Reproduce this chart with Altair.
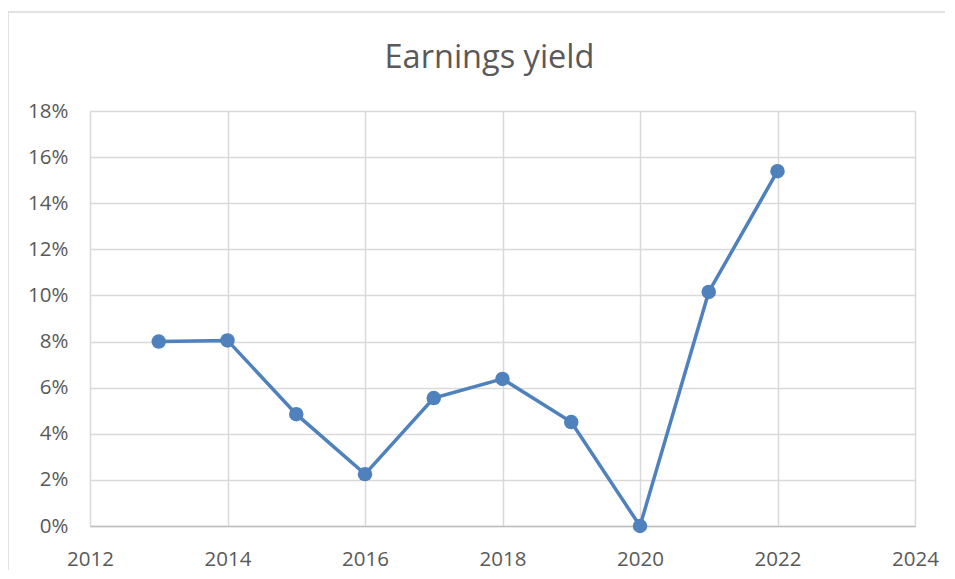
import altair as alt
import pandas as pd

years = [2013, 2014, 2015, 2016, 2017, 2018, 2019, 2020, 2021, 2022]
yields = [0.0800, 0.0805, 0.0485, 0.0225, 0.0555, 0.0638, 0.0451, 0.0000, 0.1015, 0.1539]
x_ticks = [2012, 2014, 2016, 2018, 2020, 2022, 2024]
y_ticks = [0, 0.02, 0.04, 0.06, 0.08, 0.10, 0.12, 0.14, 0.16, 0.18]

df = pd.DataFrame({"year": years, "yield": yields})

LINE = "#4f81bd"
GRID = "#d9d9d9"
TXT = "#595959"
FONT = "Open Sans"

x = alt.X(
    "year:Q",
    scale=alt.Scale(domain=[2012, 2024], nice=False, zero=False),
    axis=alt.Axis(values=x_ticks, format="d", title=None, grid=True,
                  gridColor=GRID, gridWidth=1.5, domain=True, domainColor="#bfbfbf",
                  domainWidth=1.5, ticks=False, labelFont=FONT, labelFontSize=20.5,
                  labelColor=TXT, labelPadding=23, labelFlush=False),
)
y = alt.Y(
    "yield:Q",
    scale=alt.Scale(domain=[0, 0.18], nice=False),
    axis=alt.Axis(values=y_ticks, format=".0%", title=None, grid=True,
                  gridColor=GRID, gridWidth=1.5, domain=False, ticks=False,
                  labelFont=FONT, labelFontSize=20.5, labelColor=TXT, labelPadding=22,
                  labelFlush=False),
)

border = alt.Chart(alt.Data(values=[{}])).mark_rect(
    filled=False, stroke=GRID, strokeWidth=1.5, clip=False
).encode(
    x=alt.value(-82), x2=alt.value(1100), y=alt.value(-99), y2=alt.value(700)
)

line = alt.Chart(df).mark_line(color=LINE, strokeWidth=3.5).encode(x=x, y=y)
pts = alt.Chart(df).mark_point(filled=True, size=210, opacity=1, color=LINE).encode(x=x, y=y)

chart = alt.layer(border, line, pts).properties(
    width=825,
    height=415,
    title=alt.TitleParams("Earnings yield", font=FONT, fontSize=32.5, fontWeight="normal",
                          color=TXT, anchor="middle", baseline="alphabetic",
                          offset=-89, dx=-13),
    autosize=alt.AutoSizeParams(type="none"),
    padding={"left": 82, "top": 103, "right": 30, "bottom": 44},
).configure_view(stroke=None).configure(background="white")

chart.save("out.html", embed_options={"renderer": "svg", "actions": False})
